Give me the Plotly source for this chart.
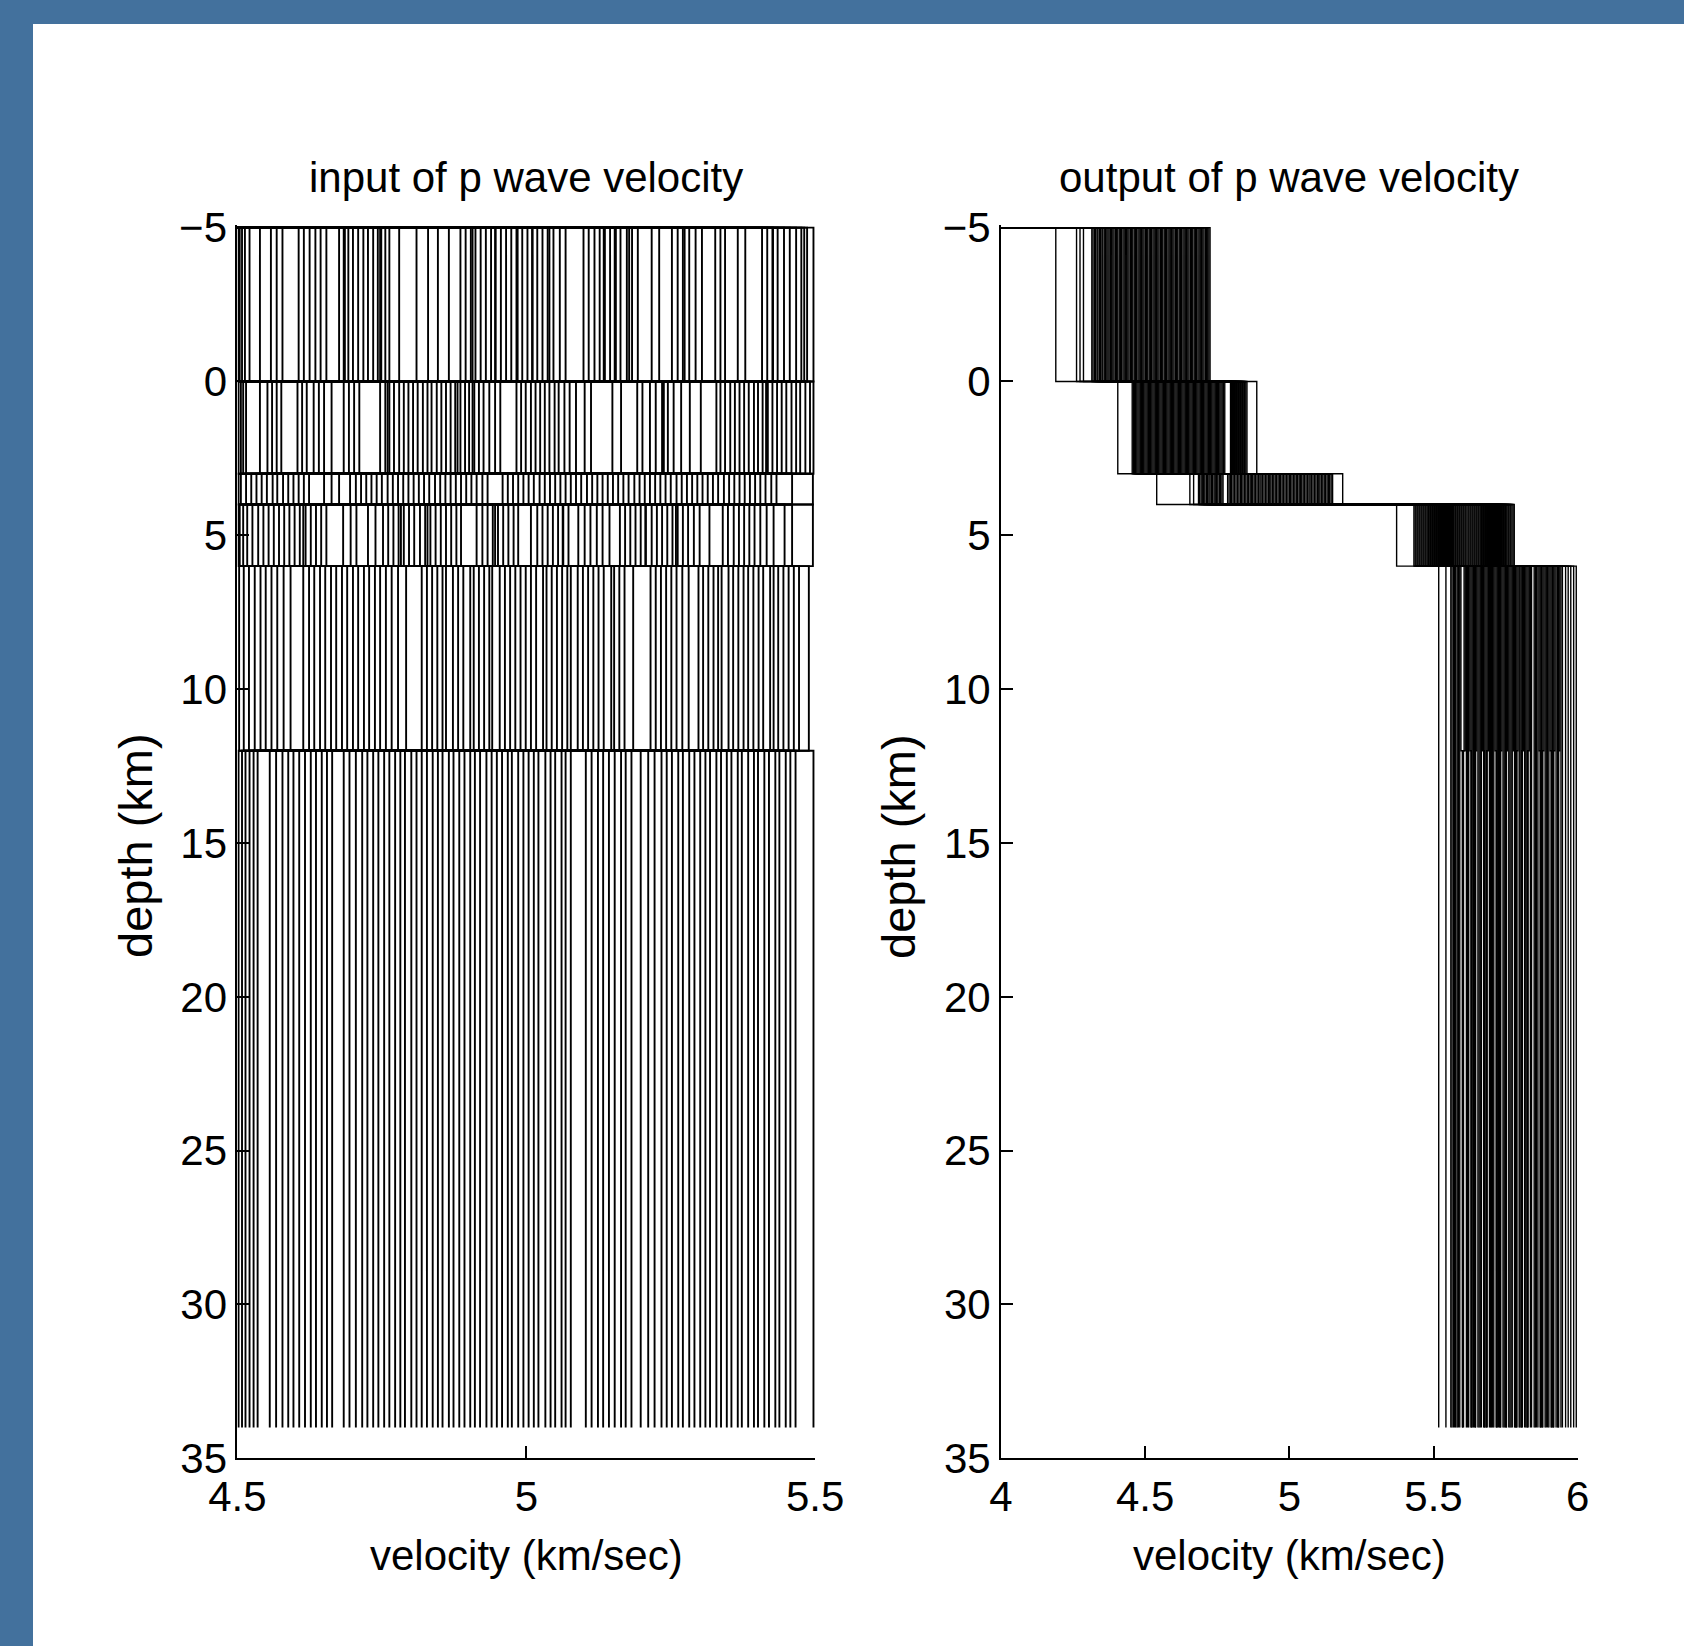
import plotly.graph_objects as go

# ---------------- data ----------------
layer_depths = [-5, 0, 3, 4, 6, 12, 34]   # layer boundaries (km)
start_velocity = 0.0                       # stairs start value at the top

depth_ticks = [-5, 0, 5, 10, 15, 20, 25, 30, 35]
depth_ticktext = ["\u22125", "0", "5", "10", "15", "20", "25", "30", "35"]
in_vel_ticks = [4.5, 5, 5.5]
in_vel_ticktext = ["4.5", "5", "5.5"]
out_vel_ticks = [4, 4.5, 5, 5.5, 6]
out_vel_ticktext = ["4", "4.5", "5", "5.5", "6"]

# input models: velocity of each layer (km/s), one value per model
in_v1 = [4.502, 4.504, 4.508, 4.513, 4.521, 4.539, 4.558, 4.568, 4.578, 4.606,
         4.615, 4.625, 4.635, 4.644, 4.654, 4.676, 4.684, 4.686, 4.692, 4.700,
         4.709, 4.718, 4.726, 4.735, 4.743, 4.747, 4.749, 4.756, 4.763, 4.780,
         4.810, 4.830, 4.847, 4.866, 4.886, 4.895, 4.904, 4.907, 4.912, 4.921,
         4.930, 4.939, 4.946, 4.947, 4.956, 4.965, 4.974, 4.983, 4.985, 4.993,
         5.002, 5.010, 5.011, 5.019, 5.028, 5.037, 5.040, 5.047, 5.058, 5.068,
         5.099, 5.108, 5.118, 5.127, 5.134, 5.136, 5.145, 5.153, 5.155, 5.163,
         5.174, 5.178, 5.183, 5.193, 5.217, 5.230, 5.252, 5.262, 5.271, 5.274,
         5.282, 5.293, 5.304, 5.327, 5.336, 5.344, 5.366, 5.379, 5.408, 5.417,
         5.426, 5.427, 5.435, 5.446, 5.456, 5.467, 5.476, 5.481, 5.486, 5.497]
in_v2 = [4.502, 4.506, 4.510, 4.515, 4.539, 4.552, 4.560, 4.568, 4.576, 4.604,
         4.612, 4.620, 4.632, 4.641, 4.650, 4.663, 4.684, 4.693, 4.702, 4.711,
         4.747, 4.756, 4.760, 4.763, 4.771, 4.780, 4.788, 4.796, 4.804, 4.812,
         4.821, 4.829, 4.836, 4.845, 4.853, 4.861, 4.869, 4.877, 4.881, 4.886,
         4.894, 4.901, 4.907, 4.910, 4.918, 4.926, 4.936, 4.946, 4.955, 4.983,
         4.991, 4.999, 5.008, 5.016, 5.024, 5.032, 5.040, 5.049, 5.056, 5.066,
         5.075, 5.086, 5.101, 5.112, 5.149, 5.164, 5.192, 5.201, 5.214, 5.224,
         5.235, 5.238, 5.245, 5.255, 5.268, 5.283, 5.302, 5.329, 5.336, 5.344,
         5.353, 5.361, 5.369, 5.377, 5.385, 5.394, 5.401, 5.409, 5.415, 5.418,
         5.426, 5.434, 5.442, 5.450, 5.459, 5.467, 5.474, 5.483, 5.491, 5.497]
in_v3 = [4.502, 4.506, 4.515, 4.524, 4.533, 4.542, 4.551, 4.561, 4.569, 4.579,
         4.588, 4.597, 4.606, 4.615, 4.624, 4.650, 4.663, 4.676, 4.695, 4.705,
         4.714, 4.723, 4.732, 4.741, 4.750, 4.760, 4.769, 4.778, 4.787, 4.796,
         4.805, 4.814, 4.823, 4.832, 4.842, 4.851, 4.860, 4.869, 4.878, 4.887,
         4.896, 4.905, 4.914, 4.924, 4.933, 4.959, 4.968, 4.977, 4.986, 4.995,
         5.004, 5.013, 5.023, 5.032, 5.041, 5.050, 5.059, 5.068, 5.077, 5.086,
         5.095, 5.105, 5.114, 5.123, 5.132, 5.141, 5.150, 5.159, 5.168, 5.177,
         5.187, 5.196, 5.205, 5.214, 5.223, 5.232, 5.241, 5.250, 5.260, 5.269,
         5.278, 5.287, 5.296, 5.305, 5.314, 5.323, 5.332, 5.342, 5.351, 5.360,
         5.369, 5.378, 5.387, 5.396, 5.405, 5.414, 5.424, 5.433, 5.460, 5.496]
in_v4 = [4.502, 4.504, 4.510, 4.517, 4.526, 4.536, 4.545, 4.554, 4.563, 4.572,
         4.581, 4.590, 4.599, 4.608, 4.614, 4.618, 4.627, 4.636, 4.645, 4.654,
         4.683, 4.696, 4.706, 4.726, 4.739, 4.752, 4.761, 4.770, 4.779, 4.783,
         4.788, 4.797, 4.806, 4.816, 4.825, 4.829, 4.834, 4.843, 4.852, 4.861,
         4.870, 4.879, 4.887, 4.914, 4.924, 4.933, 4.942, 4.946, 4.951, 4.960,
         4.969, 4.978, 4.986, 5.008, 5.019, 5.028, 5.037, 5.046, 5.055, 5.063,
         5.064, 5.073, 5.090, 5.101, 5.111, 5.122, 5.132, 5.144, 5.162, 5.171,
         5.180, 5.189, 5.198, 5.206, 5.207, 5.217, 5.226, 5.235, 5.244, 5.253,
         5.259, 5.262, 5.271, 5.280, 5.290, 5.300, 5.317, 5.340, 5.349, 5.359,
         5.368, 5.377, 5.386, 5.395, 5.405, 5.416, 5.428, 5.447, 5.460, 5.496]
in_v5 = [4.503, 4.511, 4.520, 4.530, 4.540, 4.549, 4.559, 4.569, 4.580, 4.592,
         4.614, 4.624, 4.633, 4.643, 4.652, 4.662, 4.671, 4.681, 4.690, 4.700,
         4.709, 4.719, 4.728, 4.738, 4.747, 4.757, 4.767, 4.778, 4.792, 4.819,
         4.828, 4.837, 4.846, 4.855, 4.861, 4.873, 4.882, 4.891, 4.903, 4.909,
         4.918, 4.927, 4.936, 4.941, 4.954, 4.963, 4.972, 4.981, 4.990, 4.999,
         5.008, 5.017, 5.029, 5.035, 5.044, 5.053, 5.062, 5.071, 5.077, 5.089,
         5.098, 5.107, 5.116, 5.125, 5.134, 5.147, 5.152, 5.161, 5.170, 5.185,
         5.215, 5.224, 5.233, 5.242, 5.251, 5.260, 5.270, 5.281, 5.298, 5.306,
         5.315, 5.324, 5.332, 5.338, 5.350, 5.358, 5.367, 5.376, 5.384, 5.393,
         5.402, 5.410, 5.422, 5.428, 5.436, 5.445, 5.454, 5.463, 5.472, 5.489]
in_v6 = [4.502, 4.508, 4.514, 4.521, 4.528, 4.535, 4.556, 4.567, 4.578, 4.588,
         4.597, 4.607, 4.617, 4.627, 4.636, 4.646, 4.655, 4.664, 4.684, 4.694,
         4.705, 4.716, 4.725, 4.735, 4.744, 4.754, 4.763, 4.773, 4.782, 4.790,
         4.801, 4.810, 4.819, 4.828, 4.838, 4.847, 4.855, 4.866, 4.874, 4.884,
         4.893, 4.903, 4.911, 4.920, 4.931, 4.940, 4.949, 4.958, 4.968, 4.975,
         4.986, 4.995, 5.004, 5.013, 5.021, 5.033, 5.042, 5.050, 5.061, 5.068,
         5.077, 5.103, 5.113, 5.124, 5.133, 5.143, 5.153, 5.164, 5.172, 5.182,
         5.198, 5.211, 5.222, 5.234, 5.243, 5.252, 5.263, 5.271, 5.282, 5.291,
         5.301, 5.310, 5.318, 5.329, 5.337, 5.347, 5.355, 5.366, 5.373, 5.384,
         5.394, 5.401, 5.412, 5.420, 5.431, 5.438, 5.449, 5.457, 5.466, 5.497]

# output (inverted) models
out_v1 = [4.190, 4.262, 4.274, 4.286, 4.315, 4.319, 4.324, 4.328, 4.333, 4.336,
          4.341, 4.345, 4.350, 4.353, 4.358, 4.362, 4.367, 4.371, 4.375, 4.380,
          4.384, 4.388, 4.392, 4.397, 4.401, 4.405, 4.410, 4.414, 4.418, 4.423,
          4.427, 4.431, 4.436, 4.440, 4.444, 4.449, 4.453, 4.457, 4.462, 4.466,
          4.470, 4.475, 4.479, 4.483, 4.488, 4.492, 4.496, 4.501, 4.505, 4.509,
          4.514, 4.518, 4.522, 4.527, 4.531, 4.535, 4.540, 4.544, 4.548, 4.553,
          4.557, 4.561, 4.566, 4.570, 4.574, 4.579, 4.583, 4.587, 4.592, 4.596,
          4.600, 4.605, 4.609, 4.613, 4.618, 4.622, 4.626, 4.631, 4.635, 4.639,
          4.644, 4.648, 4.652, 4.657, 4.661, 4.665, 4.670, 4.674, 4.678, 4.683,
          4.687, 4.691, 4.696, 4.700, 4.704, 4.709, 4.713, 4.717, 4.721, 4.725]
out_v2 = [4.405, 4.455, 4.459, 4.463, 4.467, 4.471, 4.475, 4.479, 4.483, 4.487,
          4.491, 4.495, 4.499, 4.503, 4.507, 4.511, 4.515, 4.519, 4.523, 4.527,
          4.531, 4.535, 4.539, 4.543, 4.547, 4.551, 4.555, 4.559, 4.563, 4.567,
          4.571, 4.575, 4.579, 4.583, 4.587, 4.591, 4.595, 4.599, 4.603, 4.607,
          4.611, 4.615, 4.619, 4.623, 4.627, 4.631, 4.635, 4.639, 4.643, 4.647,
          4.651, 4.655, 4.659, 4.663, 4.667, 4.671, 4.675, 4.679, 4.683, 4.687,
          4.691, 4.695, 4.699, 4.703, 4.707, 4.711, 4.715, 4.719, 4.723, 4.727,
          4.731, 4.735, 4.739, 4.743, 4.747, 4.751, 4.755, 4.759, 4.763, 4.767,
          4.771, 4.776, 4.796, 4.800, 4.803, 4.807, 4.810, 4.814, 4.817, 4.821,
          4.824, 4.828, 4.831, 4.835, 4.838, 4.842, 4.845, 4.849, 4.853, 4.887]
out_v3 = [4.540, 4.655, 4.668, 4.685, 4.689, 4.694, 4.698, 4.703, 4.707, 4.712,
          4.716, 4.721, 4.725, 4.730, 4.734, 4.739, 4.743, 4.748, 4.752, 4.757,
          4.761, 4.766, 4.770, 4.786, 4.791, 4.796, 4.800, 4.805, 4.810, 4.815,
          4.820, 4.825, 4.830, 4.834, 4.839, 4.844, 4.849, 4.854, 4.859, 4.864,
          4.868, 4.873, 4.878, 4.883, 4.888, 4.893, 4.898, 4.902, 4.907, 4.912,
          4.917, 4.922, 4.927, 4.932, 4.936, 4.941, 4.946, 4.951, 4.956, 4.961,
          4.966, 4.970, 4.975, 4.980, 4.985, 4.990, 4.995, 5.000, 5.004, 5.009,
          5.014, 5.019, 5.024, 5.029, 5.034, 5.038, 5.043, 5.048, 5.053, 5.058,
          5.063, 5.068, 5.072, 5.077, 5.082, 5.087, 5.092, 5.097, 5.102, 5.106,
          5.111, 5.116, 5.121, 5.126, 5.131, 5.136, 5.140, 5.145, 5.150, 5.185]
out_v4 = [5.372, 5.432, 5.436, 5.439, 5.443, 5.446, 5.450, 5.453, 5.457, 5.460,
          5.464, 5.467, 5.471, 5.474, 5.478, 5.482, 5.485, 5.489, 5.492, 5.496,
          5.499, 5.503, 5.506, 5.510, 5.513, 5.517, 5.520, 5.524, 5.528, 5.531,
          5.535, 5.538, 5.542, 5.545, 5.549, 5.552, 5.556, 5.559, 5.563, 5.566,
          5.570, 5.574, 5.577, 5.581, 5.584, 5.588, 5.591, 5.595, 5.598, 5.602,
          5.605, 5.609, 5.612, 5.616, 5.620, 5.623, 5.627, 5.630, 5.634, 5.637,
          5.641, 5.644, 5.648, 5.651, 5.655, 5.658, 5.662, 5.666, 5.669, 5.673,
          5.676, 5.680, 5.683, 5.687, 5.690, 5.694, 5.697, 5.701, 5.704, 5.708,
          5.712, 5.715, 5.719, 5.722, 5.726, 5.729, 5.733, 5.736, 5.740, 5.743,
          5.747, 5.750, 5.754, 5.758, 5.761, 5.765, 5.768, 5.772, 5.776, 5.780]
out_v5 = [5.518, 5.543, 5.560, 5.564, 5.569, 5.573, 5.577, 5.582, 5.586, 5.591,
          5.595, 5.606, 5.610, 5.614, 5.618, 5.622, 5.626, 5.630, 5.634, 5.638,
          5.642, 5.646, 5.650, 5.654, 5.658, 5.662, 5.666, 5.670, 5.674, 5.678,
          5.682, 5.686, 5.690, 5.694, 5.698, 5.701, 5.705, 5.709, 5.713, 5.717,
          5.721, 5.725, 5.729, 5.733, 5.737, 5.741, 5.745, 5.749, 5.753, 5.757,
          5.761, 5.765, 5.769, 5.773, 5.777, 5.781, 5.785, 5.789, 5.793, 5.797,
          5.800, 5.804, 5.808, 5.812, 5.816, 5.820, 5.824, 5.828, 5.832, 5.836,
          5.840, 5.849, 5.853, 5.857, 5.862, 5.866, 5.870, 5.874, 5.879, 5.883,
          5.887, 5.891, 5.896, 5.900, 5.904, 5.908, 5.913, 5.917, 5.921, 5.925,
          5.930, 5.934, 5.938, 5.942, 5.947, 5.958, 5.967, 5.976, 5.986, 5.995]
out_v6 = [5.518, 5.543, 5.560, 5.564, 5.569, 5.573, 5.577, 5.582, 5.586, 5.591,
          5.601, 5.600, 5.604, 5.614, 5.618, 5.622, 5.631, 5.630, 5.634, 5.638,
          5.642, 5.646, 5.645, 5.654, 5.658, 5.662, 5.666, 5.676, 5.674, 5.678,
          5.682, 5.686, 5.684, 5.694, 5.698, 5.701, 5.705, 5.709, 5.719, 5.717,
          5.721, 5.725, 5.729, 5.733, 5.731, 5.741, 5.745, 5.749, 5.753, 5.752,
          5.761, 5.765, 5.769, 5.773, 5.783, 5.781, 5.785, 5.789, 5.788, 5.797,
          5.800, 5.804, 5.808, 5.806, 5.816, 5.820, 5.824, 5.828, 5.826, 5.836,
          5.840, 5.849, 5.853, 5.857, 5.862, 5.871, 5.870, 5.874, 5.879, 5.877,
          5.887, 5.891, 5.896, 5.900, 5.909, 5.908, 5.913, 5.917, 5.915, 5.925,
          5.930, 5.934, 5.932, 5.942, 5.947, 5.958, 5.967, 5.976, 5.986, 5.995]

# ---------------- build stairs paths ----------------
def stairs_path(layers, depths, x0):
    n = min(len(layer) for layer in layers)
    xs, ys = [], []
    for k in range(n):
        xs.append(x0)
        ys.append(depths[0])
        for i, layer in enumerate(layers):
            xs += [layer[k], layer[k]]
            ys += [depths[i], depths[i + 1]]
        xs.append(None)
        ys.append(None)
    return xs, ys

# input models: alternate ordering so each boundary is crossed end to end
in_layers = [in_v1, in_v2[::-1], in_v3, in_v4[::-1], in_v5, in_v6[::-1]]
out_layers = [out_v1, out_v2, out_v3, out_v4, out_v5, out_v6]

xin, yin = stairs_path(in_layers, layer_depths, start_velocity)
xout, yout = stairs_path(out_layers, layer_depths, start_velocity)

W, H = 1684, 1646
FONT = "Liberation Sans, Arial, Helvetica, sans-serif"

fig = go.Figure()
fig.add_trace(go.Scatter(x=xin, y=yin, mode="lines", xaxis="x", yaxis="y",
                         line=dict(color="black", width=1.9), hoverinfo="skip",
                         showlegend=False))
fig.add_trace(go.Scatter(x=xout, y=yout, mode="lines", xaxis="x2", yaxis="y2",
                         line=dict(color="black", width=1.4), hoverinfo="skip",
                         showlegend=False))

def px_x(p):
    return p / W

def px_y(p):
    return 1 - p / H

ydom = [px_y(1458.3), px_y(225.2)]
common_axis = dict(showline=True, linewidth=2, linecolor="black", ticks="inside",
                   ticklen=12, tickwidth=2, tickcolor="black", showgrid=False,
                   zeroline=False, mirror=False, automargin=False,
                   tickfont=dict(family=FONT, size=42, color="black"))

fig.update_layout(
    template="none",
    width=W, height=H, margin=dict(l=0, r=0, t=0, b=0, pad=0, autoexpand=False),
    paper_bgcolor="white", plot_bgcolor="white",
    xaxis=dict(domain=[px_x(237.4), px_x(815.2)], range=[4.5, 5.5], anchor="y",
               tickvals=in_vel_ticks, ticktext=in_vel_ticktext, **common_axis),
    yaxis=dict(domain=ydom, range=[35, -5.08], anchor="x",
               tickvals=depth_ticks, ticktext=depth_ticktext, **common_axis),
    xaxis2=dict(domain=[px_x(1001.0), px_x(1577.7)], range=[4, 6], anchor="y2",
                tickvals=out_vel_ticks, ticktext=out_vel_ticktext, **common_axis),
    yaxis2=dict(domain=ydom, range=[35, -5.08], anchor="x2",
                tickvals=depth_ticks, ticktext=depth_ticktext, **common_axis),
)

BLUE = "#43719d"
fig.add_shape(type="rect", xref="paper", yref="paper", x0=0, x1=px_x(33),
              y0=0, y1=1, fillcolor=BLUE, line=dict(width=0), layer="above")
fig.add_shape(type="rect", xref="paper", yref="paper", x0=0, x1=1,
              y0=px_y(24), y1=1, fillcolor=BLUE, line=dict(width=0), layer="above")

def label(text, xp, yp, size=42, angle=0):
    fig.add_annotation(text=text, xref="paper", yref="paper", x=px_x(xp), y=px_y(yp),
                       xanchor="center", yanchor="middle", showarrow=False,
                       textangle=angle, font=dict(family=FONT, size=size, color="black"))

label("input of p wave velocity", 526.3, 178)
label("output of p wave velocity", 1289.3, 178)
label("velocity (km/sec)", 526.3, 1555)
label("velocity (km/sec)", 1289.3, 1555)
label("depth (km)", 136, 846, size=47, angle=-90)
label("depth (km)", 899, 846, size=47, angle=-90)

post = ("document.documentElement.style.margin='0';"
        "document.documentElement.style.padding='0';"
        "document.documentElement.style.overflow='hidden';"
        "document.body.style.margin='0';"
        "document.body.style.padding='0';"
        "document.body.style.overflow='hidden';")
fig.write_html("out.html", post_script=post, config={"displayModeBar": False})
